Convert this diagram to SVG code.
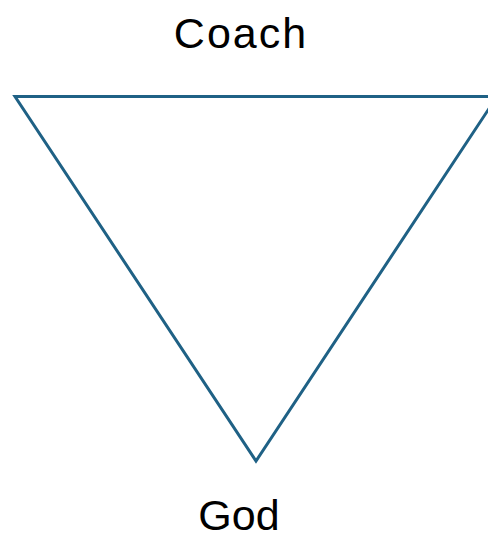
<svg xmlns="http://www.w3.org/2000/svg" width="488" height="540" viewBox="0 0 488 540">
<style>
.lbl{font-family:"Liberation Sans",Arial,sans-serif;font-size:43px;fill:#000;text-anchor:middle}
.tri{fill:none;stroke:#1f6185;stroke-width:3;stroke-linejoin:miter}
</style>
<rect width="488" height="540" fill="#fff"/>
<g id="triangle">
<polygon class="tri" points="15,96.5 497,96.5 256,461"/>
</g>
<g id="coach"><text class="lbl" x="241" y="48" letter-spacing="2">Coach</text></g>
<g id="god"><text class="lbl" x="239" y="530">God</text></g>
</svg>
